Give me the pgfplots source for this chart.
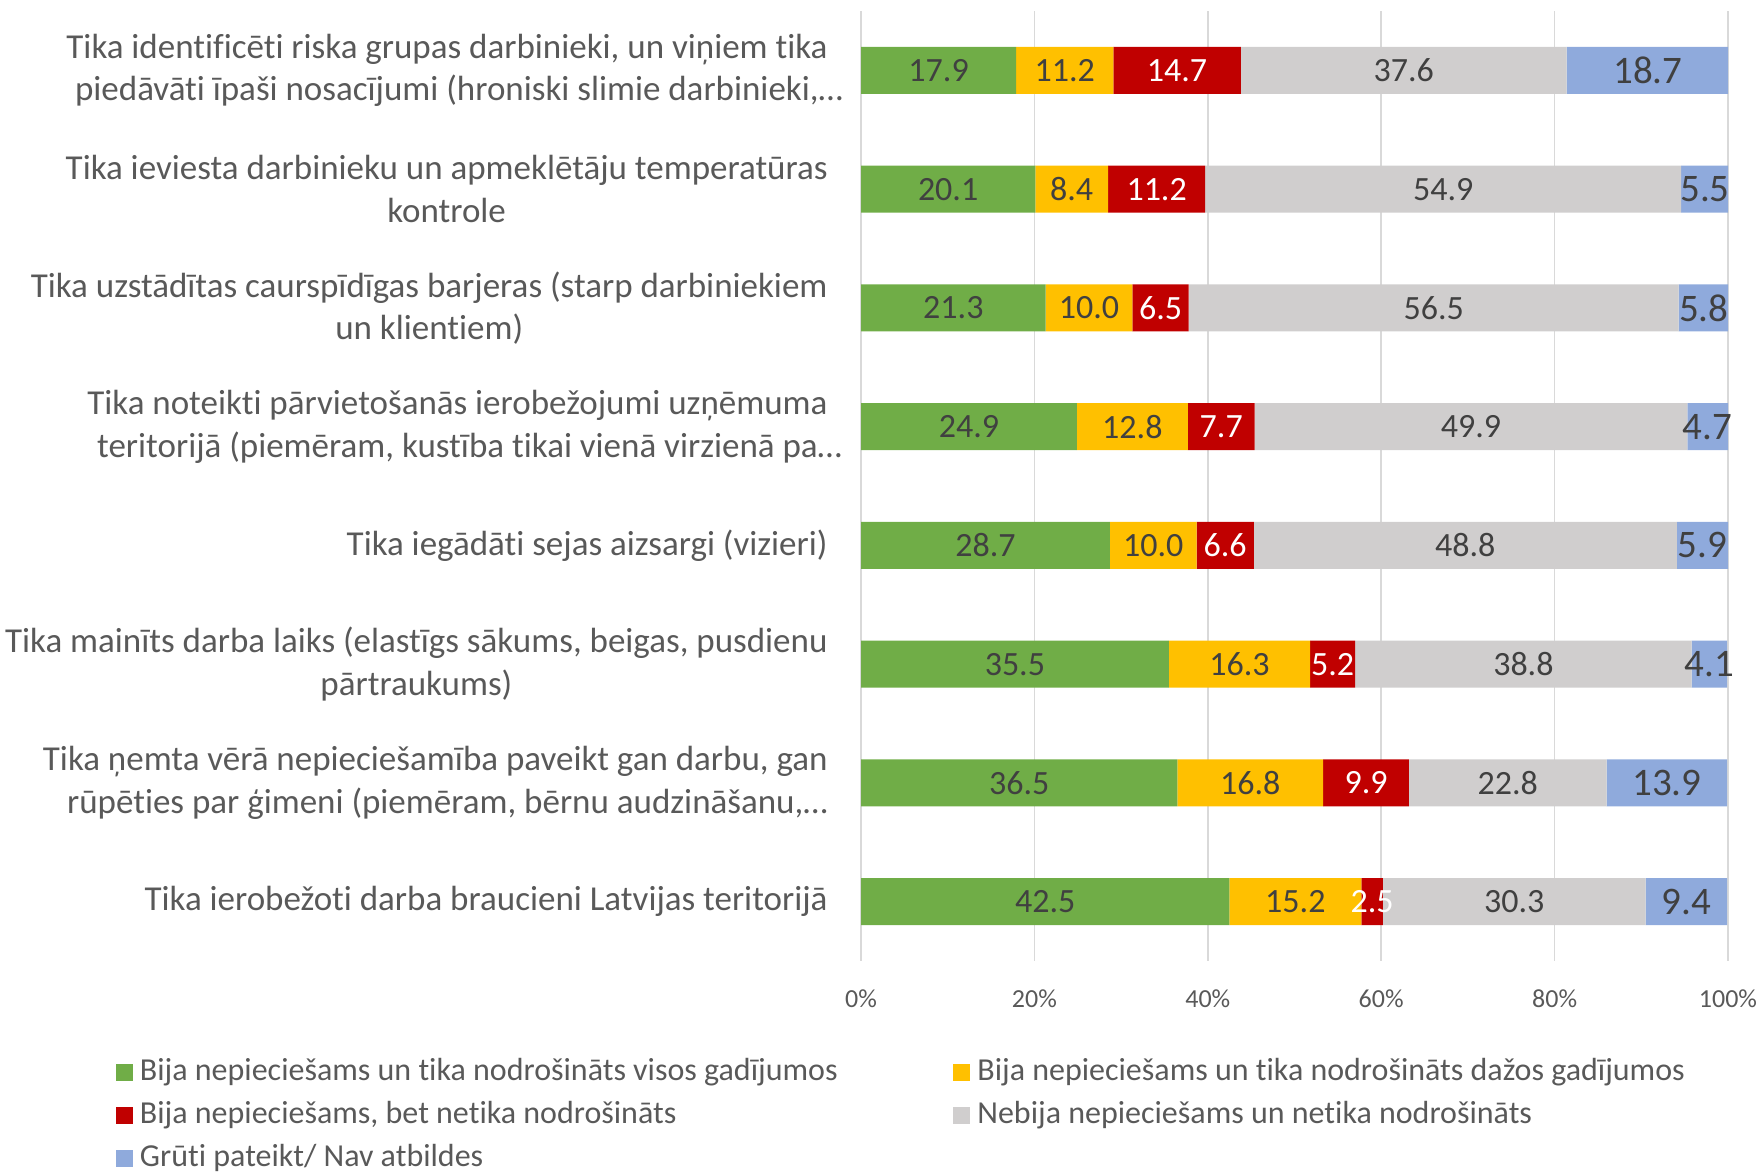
\documentclass[border=0pt]{standalone}
\usepackage{pgfplots}
\pgfplotsset{compat=1.18}
\usepackage{pgfplotstable}
\usepackage{fontspec}
\setmainfont{Carlito}[Ligatures=NoCommon]
\definecolor{cg}{HTML}{70AD47}
\definecolor{cy}{HTML}{FFC000}
\definecolor{cr}{HTML}{C00000}
\definecolor{cgr}{HTML}{D0CECE}
\definecolor{cb}{HTML}{8FAADC}
\definecolor{txt}{HTML}{595959}
\definecolor{lbl}{HTML}{404040}
\definecolor{grd}{HTML}{D9D9D9}

\pgfplotstableread{
y g yl r gr b
0 17.9 11.2 14.7 37.6 18.7
1 20.1 8.4 11.2 54.9 5.5
2 21.3 10.0 6.5 56.5 5.8
3 24.9 12.8 7.7 49.9 4.7
4 28.7 10.0 6.6 48.8 5.9
5 35.5 16.3 5.2 38.8 4.1
6 36.5 16.8 9.9 22.8 13.9
7 42.5 15.2 2.5 30.3 9.4
}\data

\pgfplotsset{
  frame/.style={
    at={(430.5pt,-480.5pt)}, anchor=south west,
    scale only axis, width=433.5pt, height=475pt,
    xmin=0, xmax=100, ymin=-0.5, ymax=7.5, y dir=reverse,
  },
  lblplot/.style n args={2}{
    draw=none, mark=none, point meta=explicit symbolic,
    nodes near coords,
    every node near coord/.style={anchor=center, text=#1,
      font=\fontsize{#2}{#2}\selectfont, inner sep=0pt},
  },
}

\begin{document}
\begin{tikzpicture}
\useasboundingbox (0,0) rectangle (878pt,-586pt);
\begin{axis}[
  frame,
  xbar stacked, bar width=23.5pt,
  clip mode=individual,
  xtick={0,20,...,100}, xticklabels={0\%,20\%,40\%,60\%,80\%,100\%},
  ytick={0,...,7},
  yticklabels={
    {Tika identificēti riska grupas darbinieki, un viņiem tika\\piedāvāti īpaši nosacījumi (hroniski slimie darbinieki,\rlap{…}},
    {Tika ieviesta darbinieku un apmeklētāju temperatūras\\kontrole},
    {Tika uzstādītas caurspīdīgas barjeras (starp darbiniekiem\\un klientiem)},
    {Tika noteikti pārvietošanās ierobežojumi uzņēmuma\\teritorijā (piemēram, kustība tikai vienā virzienā pa\rlap{…}},
    {Tika iegādāti sejas aizsargi (vizieri)},
    {Tika mainīts darba laiks (elastīgs sākums, beigas, pusdienu\\pārtraukums)},
    {Tika ņemta vērā nepieciešamība paveikt gan darbu, gan\\rūpēties par ģimeni (piemēram, bērnu audzināšanu,\rlap{…}},
    {Tika ierobežoti darba braucieni Latvijas teritorijā}},
  xmajorgrids, grid style={grd, line width=0.75pt},
  axis line style={draw=none}, major tick length=0pt,
  tick label style={text=txt},
  xticklabel style={font=\fontsize{13}{15}\selectfont, inner sep=0pt, yshift=-14pt},
  yticklabel style={font=\fontsize{17.5}{21.25}\selectfont, align=center, inner sep=0pt, xshift=-16.5pt},
  legend columns=2,
  legend image code/.code={\fill[#1] (0pt,-4.25pt) rectangle (8.5pt,4.25pt);},
  legend style={at={(axis description cs:-0.8593,-0.101)}, anchor=north west,
    draw=none, fill=none, inner sep=0pt, outer sep=0pt,
    font=\fontsize{16}{19}\selectfont, text=txt,
    row sep=5.5pt,
    nodes={inner sep=0pt, text height=12pt, text depth=4pt},
    /tikz/every odd column/.append style={column sep=3.5pt}},
  legend cell align=left,
]
\addplot[fill=cg, draw=none] table[x=g, y=y]{\data};
\addlegendentry{\makebox[406.7pt][l]{Bija nepieciešams un tika nodrošināts visos gadījumos}}
\addplot[fill=cy, draw=none] table[x=yl, y=y]{\data};
\addlegendentry{Bija nepieciešams un tika nodrošināts dažos gadījumos}
\addplot[fill=cr, draw=none] table[x=r, y=y]{\data};
\addlegendentry{\makebox[406.7pt][l]{Bija nepieciešams, bet netika nodrošināts}}
\addplot[fill=cgr, draw=none] table[x=gr, y=y]{\data};
\addlegendentry{Nebija nepieciešams un netika nodrošināts}
\addplot[fill=cb, draw=none] table[x=b, y=y]{\data};
\addlegendentry{Grūti pateikt/ Nav atbildes}
\end{axis}
\begin{axis}[frame, hide axis, clip=false]
\addplot[lblplot={lbl}{17}] table[x expr=\thisrow{g}/2, y=y, meta=g]{\data};
\addplot[lblplot={lbl}{17}] table[x expr=\thisrow{g}+\thisrow{yl}/2, y=y, meta=yl]{\data};
\addplot[lblplot={white}{17}] table[x expr=\thisrow{g}+\thisrow{yl}+\thisrow{r}/2, y=y, meta=r]{\data};
\addplot[lblplot={lbl}{17}] table[x expr=\thisrow{g}+\thisrow{yl}+\thisrow{r}+\thisrow{gr}/2, y=y, meta=gr]{\data};
\addplot[lblplot={lbl}{19.5}] table[x expr=\thisrow{g}+\thisrow{yl}+\thisrow{r}+\thisrow{gr}+\thisrow{b}/2, y=y, meta=b]{\data};
\end{axis}
\end{tikzpicture}
\end{document}
